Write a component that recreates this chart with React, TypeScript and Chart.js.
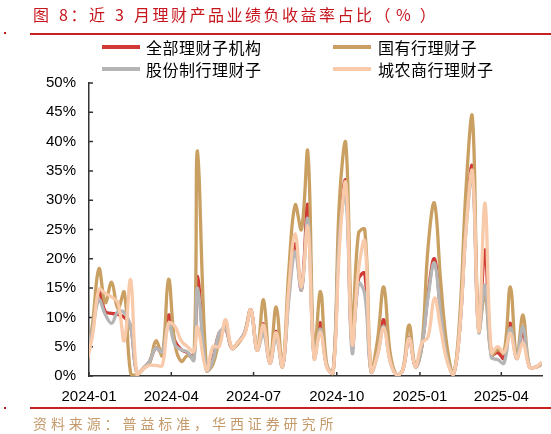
import React, { useEffect, useRef } from 'react';
import { Chart, registerables } from 'chart.js';

Chart.register(...registerables);

const titleMain = '图 8：近 3 月理财产品业绩负收益率占比（';
const titlePct = '%';
const titleEnd = '）';
const sourceText = '资料来源：普益标准，华西证券研究所';

const seriesNames = ['全部理财子机构', '国有行理财子', '股份制行理财子', '城农商行理财子'];
const seriesColors = ['#d13a34', '#c9a062', '#b5b5b5', '#f8caa9'];

const dates = [
  '2023-12-29',
  '2024-01-05', '2024-01-12', '2024-01-19', '2024-01-26', '2024-02-02', '2024-02-09', '2024-02-16', '2024-02-23', '2024-03-01', '2024-03-08',
  '2024-03-15', '2024-03-22', '2024-03-29', '2024-04-05', '2024-04-12', '2024-04-19', '2024-04-26', '2024-04-30', '2024-05-10', '2024-05-17',
  '2024-05-24', '2024-05-31', '2024-06-07', '2024-06-14', '2024-06-21', '2024-06-28', '2024-07-05', '2024-07-12', '2024-07-19', '2024-07-26',
  '2024-08-02', '2024-08-09', '2024-08-16', '2024-08-23', '2024-08-30', '2024-09-06', '2024-09-13', '2024-09-20', '2024-09-27', '2024-10-04',
  '2024-10-11', '2024-10-18', '2024-10-25', '2024-11-01', '2024-11-08', '2024-11-15', '2024-11-22', '2024-11-29', '2024-12-06', '2024-12-13',
  '2024-12-20', '2024-12-27', '2025-01-03', '2025-01-10', '2025-01-17', '2025-01-24', '2025-01-31', '2025-02-07', '2025-02-14', '2025-02-21',
  '2025-02-28', '2025-03-07', '2025-03-14', '2025-03-21', '2025-03-28', '2025-04-04', '2025-04-11', '2025-04-18', '2025-04-25', '2025-05-02',
  '2025-05-09', '2025-05-16',
];

const allInst = [
  2.5,
  8, 14.4, 11, 10.7, 10.5, 10, 8.5, 0.5, 1.3, 2.5,
  4.8, 4, 10.4, 6, 4.5, 4, 3.2, 17, 1, 3,
  7.3, 8, 4.7, 5.8, 7.3, 11.3, 4.4, 8.9, 2.2, 7.6,
  1.6, 14, 22.6, 14.7, 29.2, 3.3, 9.1, 1.6, 0.6, 25,
  33.2, 5, 16.5, 17.5, 0.7, 4, 9.6, 3, 0.2, 1,
  6.6, 1.6, 5, 14, 20, 11, 3.5, 0.3, 8, 26,
  35.7, 8, 21.5, 3.6, 4, 3, 9, 3, 7.5, 1.6,
  1.5, 2.2,
];

const stateOwned = [
  1.5,
  9, 18.3, 12.5, 16, 11.5, 14.3, 0.5, 0.2, 1.2, 2.2,
  6, 3.5, 16.5, 5.5, 2.5, 3.5, 3, 38.4, 1, 2,
  6, 8.7, 4.8, 5.5, 7.3, 11.3, 4.4, 13, 2.2, 11.8,
  1.6, 18, 29.2, 25, 38.3, 3.3, 14.4, 2, 0.5, 30,
  39.7, 7.8, 24.3, 25, 0.8, 6, 15.2, 4, 0.2, 1,
  8.7, 1.6, 5, 22, 29.5, 16, 5, 0.3, 10, 32,
  44.2, 7.8, 14, 3.6, 4.5, 4, 15.2, 3, 10.4, 1.6,
  1.5, 2,
];

const jointStock = [
  3,
  8, 13, 10.5, 9, 11, 10.8, 8.4, 0.5, 1.3, 2.5,
  4.8, 4.1, 9, 5.3, 4.5, 4.1, 2.7, 15, 1, 2.7,
  7.3, 8.1, 4.7, 5.8, 7.3, 11, 4.4, 7.3, 2.2, 6.4,
  1.6, 13, 21.2, 14.7, 26.8, 3, 8, 1.6, 0.6, 24,
  31, 4, 15.8, 14, 0.7, 3.5, 8.5, 2.5, 0.2, 1,
  6.5, 1.6, 5, 13.5, 19.3, 10.5, 3, 0.3, 8, 25,
  34.3, 7.5, 15.5, 3.2, 2.8, 2.2, 8.2, 3, 8.4, 1.6,
  1.5, 2.2,
];

const cityRural = [
  2,
  7, 14.8, 14.1, 13.5, 12.5, 6, 16.4, 0.2, 1.2, 1.8,
  1.8, 1.8, 9, 8.5, 6, 5, 4.2, 8.4, 1, 5,
  5, 9.6, 4.7, 5.8, 7, 11.3, 4.4, 8.7, 2.2, 7.4,
  1.6, 15, 24.3, 15.2, 25.5, 3, 7.5, 1.5, 0.6, 22,
  32.9, 5.5, 18, 23, 0.8, 3.5, 8.2, 2.5, 0.2, 1,
  6.4, 1.6, 5.6, 6.7, 13.3, 8, 2.5, 0.3, 8, 25,
  34.9, 7.6, 29.5, 4, 5, 4, 7.3, 3, 5.6, 1.6,
  1.5, 2.4,
];

const yTickValues = [0, 5, 10, 15, 20, 25, 30, 35, 40, 45, 50];
const xTickDates = ['2024-01-01', '2024-04-01', '2024-07-01', '2024-10-01', '2025-01-01', '2025-04-01'];
const xTickLabels = ['2024-01', '2024-04', '2024-07', '2024-10', '2025-01', '2025-04'];

function dayNum(s: string): number {
  const [y, m, d] = s.split('-').map(Number);
  return (Date.UTC(y, m - 1, d) - Date.UTC(2024, 0, 1)) / 86400000;
}

const xTickDays = xTickDates.map(dayNum);
const seriesValues = [allInst, stateOwned, jointStock, cityRural];
const drawOrder = [4, 3, 2, 1];

const axisColor = '#333333';

const innerTicks = {
  id: 'innerTicks',
  beforeDatasetsDraw(chart: any) {
    const { ctx, chartArea, scales } = chart;
    ctx.save();
    ctx.strokeStyle = axisColor;
    ctx.lineWidth = 1.5;
    ctx.beginPath();
    yTickValues.forEach((v) => {
      const py = scales.y.getPixelForValue(v);
      ctx.moveTo(chartArea.left, py);
      ctx.lineTo(chartArea.left + 4, py);
    });
    xTickDays.forEach((d) => {
      const px = scales.x.getPixelForValue(d);
      ctx.moveTo(px, chartArea.bottom);
      ctx.lineTo(px, chartArea.bottom - 4);
    });
    ctx.stroke();
    ctx.restore();
  },
};

export default function App() {
  const ref = useRef<HTMLCanvasElement>(null);

  useEffect(() => {
    if (!ref.current) return;
    const tickFont = { family: '"Liberation Sans", Arial, sans-serif', size: 15 };
    const chart = new Chart(ref.current, {
      type: 'line',
      data: {
        datasets: seriesValues.map((vals, si) => ({
          label: seriesNames[si],
          data: dates.map((d, i) => ({ x: dayNum(d), y: vals[i] })),
          borderColor: seriesColors[si],
          backgroundColor: seriesColors[si],
          borderWidth: 3.3,
          pointRadius: 0,
          tension: 0.4,
          fill: false,
          order: drawOrder[si],
        })),
      },
      options: {
        responsive: false,
        animation: false,
        events: [],
        layout: { padding: { left: 0, right: 9, top: 83, bottom: 0 } },
        plugins: {
          legend: { display: false },
          tooltip: { enabled: false },
          title: { display: false },
        },
        scales: {
          x: {
            type: 'linear',
            min: 0,
            max: dayNum(dates[dates.length - 1]),
            grid: { display: false, drawTicks: false },
            border: { display: true, color: axisColor, width: 1.5 },
            afterBuildTicks: (s: any) => {
              s.ticks = xTickDays.map((v) => ({ value: v }));
            },
            afterFit: (s: any) => {
              s.height = 58;
            },
            ticks: {
              autoSkip: false,
              maxRotation: 0,
              padding: 12,
              color: '#000',
              font: tickFont,
              callback: (v: any) => {
                const i = xTickDays.indexOf(Number(v));
                return i >= 0 ? xTickLabels[i] : '';
              },
            },
          },
          y: {
            type: 'linear',
            min: 0,
            max: 50,
            grid: { display: false, drawTicks: false },
            border: { display: true, color: axisColor, width: 1.5 },
            afterBuildTicks: (s: any) => {
              s.ticks = yTickValues.map((v) => ({ value: v }));
            },
            afterFit: (s: any) => {
              s.width = 89;
            },
            ticks: {
              padding: 13,
              color: '#000',
              font: tickFont,
              callback: (v: any) => `${v}%`,
            },
          },
        },
      },
      plugins: [innerTicks],
    } as any);
    return () => chart.destroy();
  }, []);

  const cjk = '"Noto Sans CJK SC", "Noto Sans", sans-serif';
  const legendRows = [
    { i: 0, lineX: 102, textX: 146, y: 47 },
    { i: 1, lineX: 333, textX: 378, y: 47 },
    { i: 2, lineX: 102, textX: 146, y: 68.5 },
    { i: 3, lineX: 333, textX: 378, y: 68.5 },
  ];

  return (
    <div style={{ position: 'absolute', left: 0, top: 0, width: 551, height: 434, background: '#fff', overflow: 'hidden' }}>
      <canvas ref={ref} width={551} height={434} style={{ position: 'absolute', left: 0, top: 0 }} />
      <div
        style={{
          position: 'absolute', left: 33, top: 5, fontFamily: cjk, fontSize: 16, lineHeight: '19px',
          letterSpacing: '2.5px', wordSpacing: '1.5px', color: '#c8161e', whiteSpace: 'nowrap',
        }}
      >
        {titleMain}
        <span style={{ paddingLeft: 3, letterSpacing: '9px' }}>{titlePct}</span>
        {titleEnd}
      </div>
      <div style={{ position: 'absolute', left: 4, top: 32, width: 2, height: 2, background: '#c8161e' }} />
      <div style={{ position: 'absolute', left: 30, top: 32.5, width: 521, height: 2, background: '#c82020' }} />
      {legendRows.map((r) => (
        <React.Fragment key={r.i}>
          <div
            style={{
              position: 'absolute', left: r.lineX, top: r.y - 2, width: 38, height: 4,
              background: seriesColors[r.i],
            }}
          />
          <div
            style={{
              position: 'absolute', left: r.textX, top: r.y - 10, fontFamily: cjk, fontSize: 16,
              lineHeight: '20px', letterSpacing: '0.5px', color: '#000', whiteSpace: 'nowrap',
            }}
          >
            {seriesNames[r.i]}
          </div>
        </React.Fragment>
      ))}
      <div style={{ position: 'absolute', left: 4, top: 407, width: 2, height: 2, background: '#c8161e' }} />
      <div style={{ position: 'absolute', left: 30, top: 407, width: 521, height: 1.5, background: '#c82020' }} />
      <div
        style={{
          position: 'absolute', left: 33, top: 414, fontFamily: cjk, fontSize: 14, lineHeight: '18px',
          letterSpacing: '3.9px', color: '#c49a6a', whiteSpace: 'nowrap',
        }}
      >
        {sourceText}
      </div>
    </div>
  );
}
